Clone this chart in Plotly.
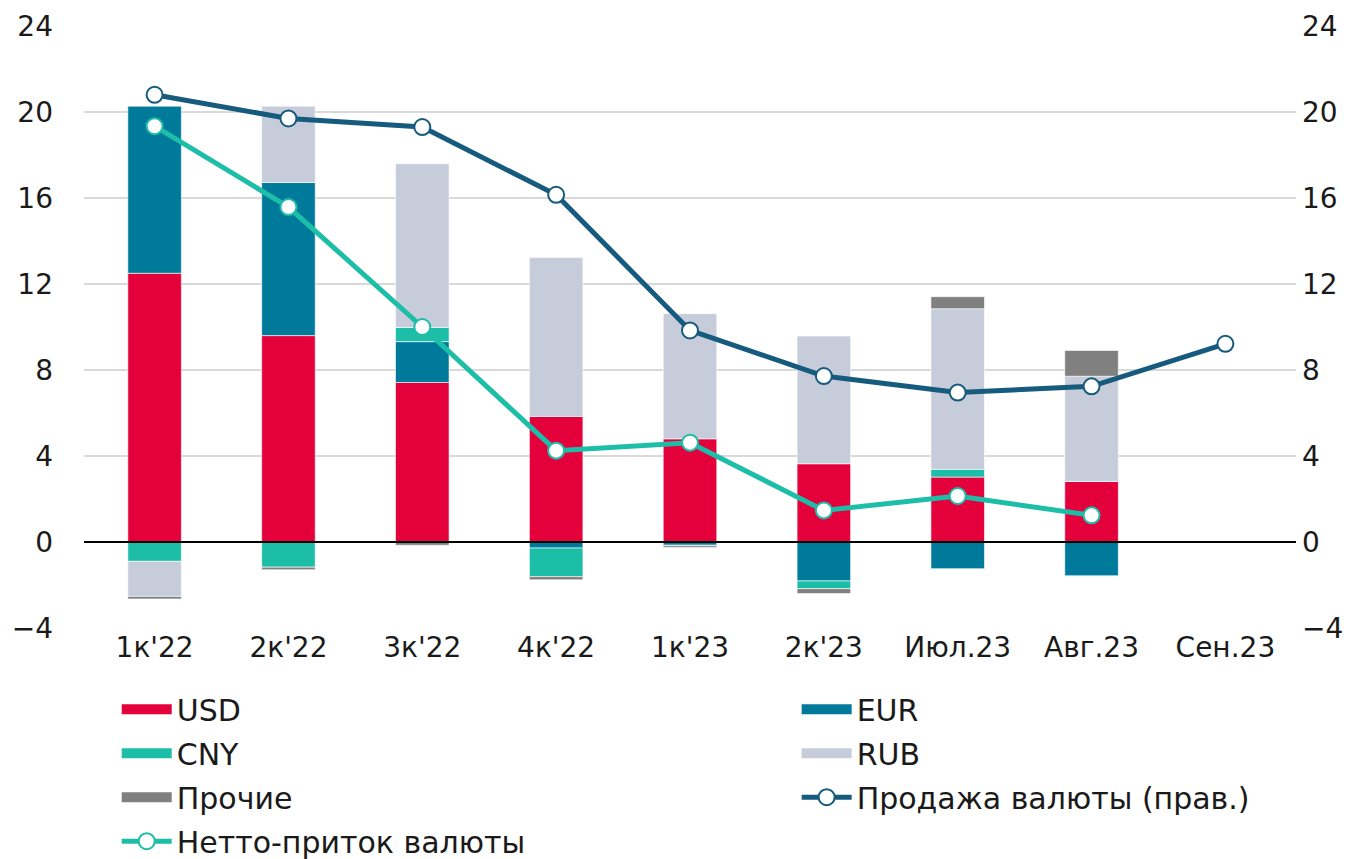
import plotly.graph_objects as go

categories = ["1к'22", "2к'22", "3к'22", "4к'22", "1к'23", "2к'23", "Июл.23", "Авг.23", "Сен.23"]
usd = [12.5, 9.6, 7.42, 5.84, 4.8, 3.64, 3.02, 2.82, None]
eur = [7.77, 7.12, 1.9, -0.28, -0.15, -1.81, -1.24, -1.57, None]
cny = [-0.9, -1.17, 0.66, -1.33, -0.03, -0.36, 0.36, 0.0, None]
rub = [-1.63, 3.55, 7.61, 7.39, 5.82, 5.94, 7.47, 4.89, None]
other = [-0.12, -0.12, -0.15, -0.15, -0.08, -0.23, 0.56, 1.2, None]
sales = [20.8, 19.7, 19.3, 16.15, 9.84, 7.72, 6.95, 7.24, 9.22]
net_inflow = [19.34, 15.58, 10.0, 4.25, 4.62, 1.47, 2.14, 1.24, None]
y_ticks = [-4, 0, 4, 8, 12, 16, 20, 24]

FONT = "DejaVu Sans"
bar_series = [
    ("USD", usd, "#E4003A", "legend"),
    ("EUR", eur, "#007A9A", "legend2"),
    ("CNY", cny, "#1DBEA8", "legend"),
    ("RUB", rub, "#C6CCDA", "legend2"),
    ("Прочие", other, "#808080", "legend"),
]

fig = go.Figure()
for name, vals, col, lg in bar_series:
    fig.add_trace(go.Bar(
        x=categories, y=vals, name=name,
        marker=dict(color=col, line=dict(color="rgba(255,255,255,0.6)", width=1)),
        width=0.4, showlegend=False, legendgroup=name))

# legend entries for bars (wide rectangles)
for name, vals, col, lg in bar_series:
    fig.add_trace(go.Scatter(
        x=[None], y=[None], mode="lines", name=name, legendgroup=name, legend=lg,
        line=dict(color=col, width=18)))

fig.add_trace(go.Scatter(
    x=categories, y=sales, name="Продажа валюты (прав.)", yaxis="y2", mode="lines+markers",
    legend="legend2", legendgroup="sales",
    line=dict(color="#165A7E", width=5),
    marker=dict(size=16, color="white", line=dict(color="#165A7E", width=2))))
fig.add_trace(go.Scatter(
    x=categories, y=net_inflow, name="Нетто-приток валюты", mode="lines+markers",
    legend="legend", legendgroup="net",
    line=dict(color="#1DBEA8", width=5),
    marker=dict(size=16, color="white", line=dict(color="#1DBEA8", width=2))))

legend_common = dict(orientation="v", xanchor="left", yanchor="top", y=-0.0917,
                     itemwidth=50, tracegroupgap=2, font=dict(size=30, family=FONT, color="#1a1a1a"),
                     bgcolor="rgba(0,0,0,0)")

fig.update_layout(
    width=1367, height=859,
    margin=dict(l=84, r=71, t=26, b=231, autoexpand=False),
    barmode="relative",
    plot_bgcolor="white", paper_bgcolor="white",
    font=dict(family=FONT, size=28, color="#1a1a1a"),
    xaxis=dict(showgrid=False, ticks="", tickfont=dict(size=28)),
    yaxis=dict(range=[-4, 24], tickvals=y_ticks, showgrid=True, gridcolor="#D9D9D9", gridwidth=1.5,
               zeroline=True, zerolinecolor="black", zerolinewidth=2, zerolinelayer="above traces",
               ticks="", ticklabelstandoff=30),
    yaxis2=dict(range=[-4, 24], tickvals=y_ticks, overlaying="y", side="right", showgrid=False,
                zeroline=False, ticks="", ticklabelstandoff=5),
    legend=dict(x=0.027, **legend_common),
    legend2=dict(x=0.588, **legend_common),
)

fig.write_html("out.html")
